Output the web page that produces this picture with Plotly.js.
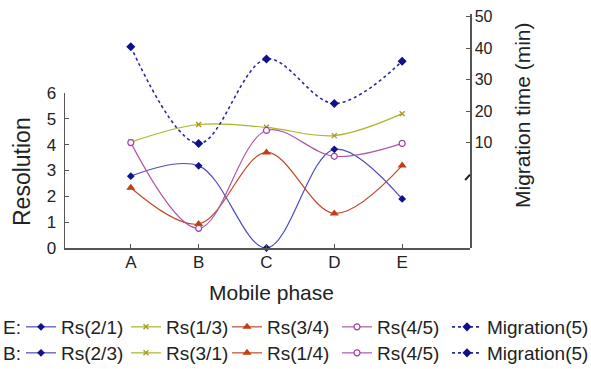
<!DOCTYPE html>
<html>
<head>
<meta charset="utf-8">
<script src="https://cdn.plot.ly/plotly-3.0.1.min.js"></script>
<style>html,body{margin:0;padding:0;background:#fff;}</style>
</head>
<body>
<div id="chart" style="width:591px;height:369px;"></div>
<script>
// ---- data ----
const phases = ['A', 'B', 'C', 'D', 'E'];
const rs21 = [2.78, 3.18, 0.0, 3.82, 1.9];
const rs13 = [4.1, 4.78, 4.67, 4.35, 5.2];
const rs34 = [2.33, 0.93, 3.7, 1.34, 3.19];
const rs45 = [4.08, 0.76, 4.55, 3.55, 4.05];
const migration5 = [40.5, 9.8, 36.6, 22.5, 35.9];
const namesRowE = ['Rs(2/1)', 'Rs(1/3)', 'Rs(3/4)', 'Rs(4/5)', 'Migration(5)'];
const namesRowB = ['Rs(2/3)', 'Rs(3/1)', 'Rs(1/4)', 'Rs(4/5)', 'Migration(5)'];
const rowLabels = ['E:', 'B:'];
const leftTicks = [0, 1, 2, 3, 4, 5, 6];
const rightTicks = [10, 20, 30, 40, 50];

// ---- styles ----
const styles = [
  {line: {color: '#4b4bc4', width: 1.2, shape: 'spline'}, marker: {symbol: 'diamond', size: 6, color: '#12128a'}},
  {line: {color: '#aab52a', width: 1.2, shape: 'spline'}, marker: {symbol: 'x-thin-open', size: 5, color: '#a89a20', line: {width: 1.4, color: '#a89a20'}}},
  {line: {color: '#c04a2a', width: 1.2, shape: 'spline'}, marker: {symbol: 'triangle-up', size: 8, color: '#c23f10'}},
  {line: {color: '#ac58ac', width: 1.2, shape: 'spline'}, marker: {symbol: 'circle', size: 6, color: '#ffffff', line: {width: 1.2, color: '#a040a0'}}},
  {line: {color: '#2a2aa8', width: 1.6, dash: 'dot', shape: 'spline'}, marker: {symbol: 'diamond', size: 7, color: '#10108a'}}
];
const series = [rs21, rs13, rs34, rs45, migration5];
const font = 'Liberation Sans, Arial, Helvetica, sans-serif';
const W = 591, H = 369;
const legendX = [21, 126, 227, 337, 447];
const legendRowY = [327, 353];

const traces = [];
series.forEach((vals, i) => {
  traces.push({
    x: phases, y: vals, type: 'scatter', mode: 'lines+markers',
    name: namesRowE[i], legend: i === 0 ? 'legend' : 'legend' + (i + 1),
    yaxis: i === 4 ? 'y2' : 'y',
    line: styles[i].line, marker: styles[i].marker, cliponaxis: false
  });
});
series.forEach((vals, i) => {
  traces.push({
    x: [null], y: [null], type: 'scatter', mode: 'lines+markers',
    name: namesRowB[i], legend: 'legend' + (i + 6),
    yaxis: i === 4 ? 'y2' : 'y',
    line: styles[i].line, marker: styles[i].marker
  });
});

const axisCommon = {
  showline: true, linecolor: '#555', linewidth: 1.5,
  ticks: 'inside', ticklen: 4, tickcolor: '#555', tickwidth: 1.2,
  showgrid: false, zeroline: false
};

const layout = {
  width: W, height: H,
  margin: {l: 65, r: 121, t: 14, b: 121},
  paper_bgcolor: '#fff', plot_bgcolor: 'rgba(0,0,0,0)',
  font: {family: font, color: '#222'},
  showlegend: true,
  xaxis: Object.assign({}, axisCommon, {
    type: 'category', categoryarray: phases, range: [-0.97, 5.0],
    tickfont: {size: 17, color: '#222'}, ticklabelstandoff: -2
  }),
  yaxis: Object.assign({}, axisCommon, {
    domain: [0, 0.6624], range: [0, 6], tickvals: leftTicks,
    tickfont: {size: 17, color: '#222'}, ticklabelstandoff: 4
  }),
  yaxis2: Object.assign({}, axisCommon, {
    domain: [0, 1], side: 'right', anchor: 'x',
    range: [-23.4, 50.9], tickvals: rightTicks,
    tickfont: {size: 16, color: '#222'}
  }),
  annotations: [
    {text: 'Mobile phase', xref: 'paper', yref: 'paper',
     x: (271 - 65) / 405, y: (248 - 292) / 234, xanchor: 'center', yanchor: 'middle',
     showarrow: false, font: {size: 21, color: '#222'}},
    {text: 'Resolution', textangle: -90, xref: 'paper', yref: 'paper',
     x: (22 - 65) / 405, y: (248 - 172) / 234, xanchor: 'center', yanchor: 'middle',
     showarrow: false, font: {size: 23, color: '#222'}},
    {text: 'Migration time (min)', textangle: -90, xref: 'paper', yref: 'paper',
     x: (522 - 65) / 405, y: (248 - 115) / 234, xanchor: 'center', yanchor: 'middle',
     showarrow: false, font: {size: 21, color: '#222'}},
    {text: rowLabels[0], xref: 'paper', yref: 'paper', x: (1 - 65) / 405, y: (248 - legendRowY[0]) / 234,
     xanchor: 'left', yanchor: 'middle', showarrow: false, font: {size: 19, color: '#222'}},
    {text: rowLabels[1], xref: 'paper', yref: 'paper', x: (1 - 65) / 405, y: (248 - legendRowY[1]) / 234,
     xanchor: 'left', yanchor: 'middle', showarrow: false, font: {size: 19, color: '#222'}}
  ],
  shapes: [
    {type: 'line', xref: 'paper', yref: 'y2', x0: 0.988, x1: 1.0, y0: -1.8, y1: -0.1,
     line: {color: '#222', width: 2}}
  ]
};

// ten single-entry legends, two rows of five
for (let r = 0; r < 2; r++) {
  for (let c = 0; c < 5; c++) {
    const idx = r * 5 + c + 1;
    const key = idx === 1 ? 'legend' : 'legend' + idx;
    layout[key] = {
      orientation: 'h', xref: 'container', yref: 'container',
      x: legendX[c] / W, y: 1 - legendRowY[r] / H,
      xanchor: 'left', yanchor: 'middle',
      font: {family: font, size: 19, color: '#222'},
      bgcolor: 'rgba(0,0,0,0)', borderwidth: 0, itemwidth: 30
    };
  }
}

Plotly.newPlot('chart', traces, layout, {displayModeBar: false, staticPlot: true});
</script>
</body>
</html>
